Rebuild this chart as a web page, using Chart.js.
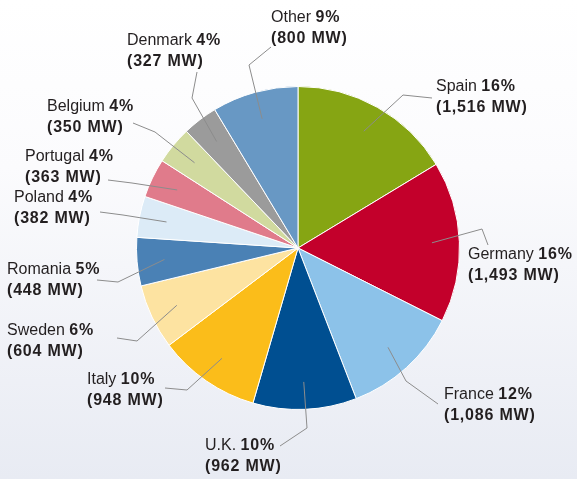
<!DOCTYPE html>
<html>
<head>
<meta charset="utf-8">
<script src="https://cdn.jsdelivr.net/npm/chart.js@4.4.1/dist/chart.umd.min.js"></script>
<style>
  html, body { margin: 0; padding: 0; }
  body { width: 577px; height: 479px; overflow: hidden;
         background: linear-gradient(to bottom, #ffffff 0%, #fbfbfd 35%, #e8ebf3 100%); }
  #wrap { width: 577px; height: 479px; }
</style>
</head>
<body>
<div id="wrap"><canvas id="pie" width="577" height="479"></canvas></div>
<script>
// data
const countries = ['Spain', 'Germany', 'France', 'U.K.', 'Italy', 'Sweden',
  'Romania', 'Poland', 'Portugal', 'Belgium', 'Denmark', 'Other'];
const megawatts = [1516, 1493, 1086, 962, 948, 604, 448, 382, 363, 350, 327, 800];
const shares = [16, 16, 12, 10, 10, 6, 5, 4, 4, 4, 4, 9];

const colors = ['#86a513', '#c3002b', '#8cc2e9', '#004f91', '#fbbd1a', '#fde3a1',
  '#4a81b5', '#dcebf7', '#e07b8b', '#d1da9f', '#9b9b9b', '#6898c4'];

// callout layout, offsets in px from the pie centre: text (left, first line middle), elbow, line end
const callouts = [
  { text: [138, -161], elbow: [105, -153], end: [134, -150] },
  { text: [170, 7],    elbow: [184, -19],  end: [190, -3] },
  { text: [146, 147],  elbow: [108, 133],  end: [140, 156] },
  { text: [-93, 198],  elbow: [9, 180],    end: [-18, 198] },
  { text: [-211, 132], elbow: [-111, 142], end: [-133, 140] },
  { text: [-291, 83],  elbow: [-161, 93],  end: [-181, 90] },
  { text: [-291, 22],  elbow: [-180, 34],  end: [-201, 32] },
  { text: [-284, -50], elbow: [-175, -33], end: [-198, -36] },
  { text: [-273, -91], elbow: [-166, -65], end: [-190, -68] },
  { text: [-251, -141],elbow: [-143, -116],end: [-165, -125] },
  { text: [-171, -207],elbow: [-106, -150],end: [-101, -176] },
  { text: [-27, -230], elbow: [-49, -183], end: [-27, -201] }
];

const FONT = '"Liberation Sans", Arial, sans-serif';

const calloutPlugin = {
  id: 'callouts',
  afterDatasetsDraw(chart) {
    const ctx = chart.ctx;
    const arcs = chart.getDatasetMeta(0).data;
    ctx.save();
    arcs.forEach(function (arc, i) {
      const cx = arc.x, cy = arc.y;
      const mid = (arc.startAngle + arc.endAngle) / 2;
      const r = arc.outerRadius * 0.83;
      const ax = cx + Math.cos(mid) * r;
      const ay = cy + Math.sin(mid) * r;
      const c = callouts[i];

      ctx.strokeStyle = '#8c8c8c';
      ctx.lineWidth = 1;
      ctx.beginPath();
      ctx.moveTo(ax, ay);
      ctx.lineTo(cx + c.elbow[0], cy + c.elbow[1]);
      ctx.lineTo(cx + c.end[0], cy + c.end[1]);
      ctx.stroke();

      const tx = cx + c.text[0];
      const ty = cy + c.text[1];
      ctx.fillStyle = '#231f20';
      ctx.textBaseline = 'middle';
      ctx.textAlign = 'left';
      ctx.letterSpacing = '0px';
      ctx.font = '16px ' + FONT;
      const first = countries[i] + ' ';
      ctx.fillText(first, tx, ty);
      const w = ctx.measureText(first).width;
      ctx.font = 'bold 16px ' + FONT;
      ctx.letterSpacing = '0.8px';
      ctx.fillText(shares[i] + '%', tx + w, ty);
      ctx.fillText('(' + megawatts[i].toLocaleString('en-US') + ' MW)', tx, ty + 21);
    });
    ctx.restore();
  }
};

new Chart(document.getElementById('pie'), {
  type: 'pie',
  data: {
    labels: countries,
    datasets: [{
      data: megawatts,
      backgroundColor: colors,
      borderColor: '#ffffff',
      borderWidth: 1
    }]
  },
  options: {
    responsive: false,
    animation: false,
    layout: { padding: { left: 136, right: 117, top: 86, bottom: 69 } },
    plugins: {
      legend: { display: false },
      tooltip: { enabled: false }
    }
  },
  plugins: [calloutPlugin]
});
</script>
</body>
</html>
